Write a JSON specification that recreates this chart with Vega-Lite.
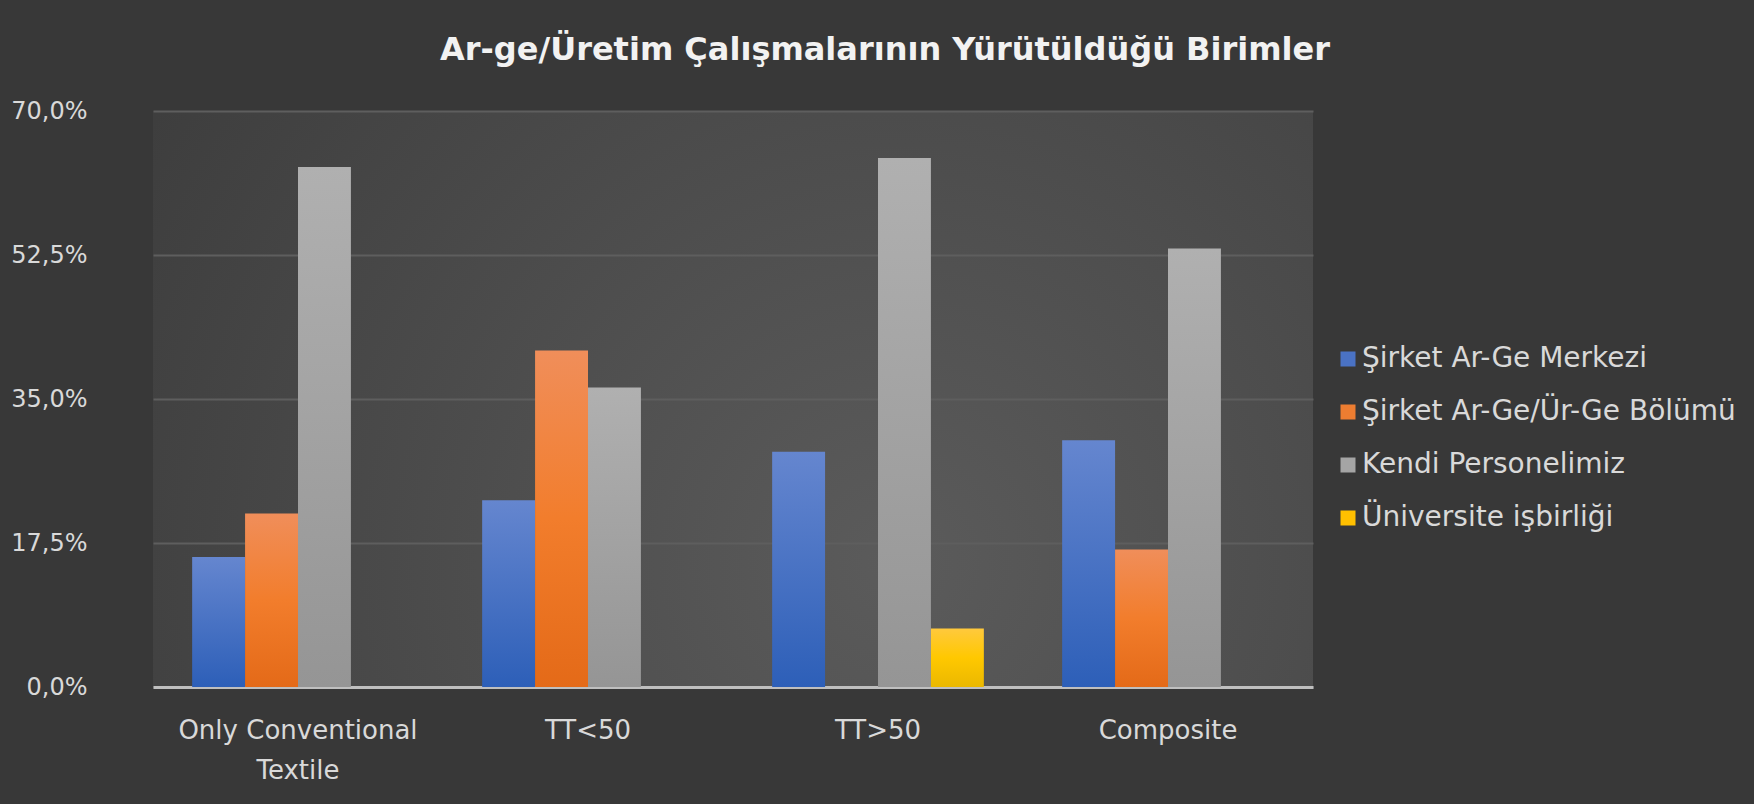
{
  "$schema": "https://vega.github.io/schema/vega-lite/v6.json",
  "autosize": {"type": "none"},
  "width": 1160,
  "height": 576,
  "padding": {"left": 153, "top": 111, "right": 441, "bottom": 117},
  "background": "#383838",
  "title": {
    "text": "Ar-ge/Üretim Çalışmalarının Yürütüldüğü Birimler",
    "font": "DejaVu Sans",
    "fontSize": 32,
    "fontWeight": "bold",
    "color": "#f2f2f2",
    "anchor": "middle",
    "dx": 152,
    "offset": 32
  },
  "data": {
    "values": [
      {"category": "Only Conventional Textile", "series": "Şirket Ar-Ge Merkezi", "value": 0.158},
      {"category": "Only Conventional Textile", "series": "Şirket Ar-Ge/Ür-Ge Bölümü", "value": 0.211},
      {"category": "Only Conventional Textile", "series": "Kendi Personelimiz", "value": 0.632},
      {"category": "TT<50", "series": "Şirket Ar-Ge Merkezi", "value": 0.227},
      {"category": "TT<50", "series": "Şirket Ar-Ge/Ür-Ge Bölümü", "value": 0.409},
      {"category": "TT<50", "series": "Kendi Personelimiz", "value": 0.364},
      {"category": "TT>50", "series": "Şirket Ar-Ge Merkezi", "value": 0.286},
      {"category": "TT>50", "series": "Kendi Personelimiz", "value": 0.643},
      {"category": "TT>50", "series": "Üniversite işbirliği", "value": 0.071},
      {"category": "Composite", "series": "Şirket Ar-Ge Merkezi", "value": 0.3},
      {"category": "Composite", "series": "Şirket Ar-Ge/Ür-Ge Bölümü", "value": 0.167},
      {"category": "Composite", "series": "Kendi Personelimiz", "value": 0.533}
    ]
  },
  "mark": {"type": "bar"},
  "encoding": {
    "x": {
      "field": "category",
      "type": "nominal",
      "sort": ["Only Conventional Textile", "TT<50", "TT>50", "Composite"],
      "scale": {"paddingInner": 0.27, "paddingOuter": 0.135},
      "axis": {
        "title": null,
        "labelAngle": 0,
        "ticks": false,
        "domain": true,
        "domainColor": "#bfbfbf",
        "domainWidth": 3,
        "labelPadding": 30,
        "labelFont": "DejaVu Sans",
        "labelFontSize": 26,
        "labelColor": "#d9d9d9",
        "labelLineHeight": 40,
        "labelLimit": 0,
        "labelExpr": "datum.label == 'Only Conventional Textile' ? ['Only Conventional', 'Textile'] : datum.label"
      }
    },
    "xOffset": {
      "field": "series",
      "type": "nominal",
      "sort": ["Şirket Ar-Ge Merkezi", "Şirket Ar-Ge/Ür-Ge Bölümü", "Kendi Personelimiz", "Üniversite işbirliği"],
      "scale": {"domain": ["Şirket Ar-Ge Merkezi", "Şirket Ar-Ge/Ür-Ge Bölümü", "Kendi Personelimiz", "Üniversite işbirliği"], "paddingInner": 0, "paddingOuter": 0}
    },
    "y": {
      "field": "value",
      "type": "quantitative",
      "scale": {"domain": [0, 0.7], "nice": false},
      "axis": {
        "title": null,
        "values": [0, 0.175, 0.35, 0.525, 0.7],
        "labelExpr": "replace(format(datum.value, '.1%'), '.', ',')",
        "domain": false,
        "ticks": false,
        "grid": true,
        "gridColor": "#5e5e5e",
        "gridWidth": 2,
        "labelPadding": 66,
        "labelFont": "DejaVu Sans",
        "labelFontSize": 24,
        "labelColor": "#d9d9d9"
      }
    },
    "fill": {
      "field": "series",
      "type": "nominal",
      "scale": {
        "domain": ["Şirket Ar-Ge Merkezi", "Şirket Ar-Ge/Ür-Ge Bölümü", "Kendi Personelimiz", "Üniversite işbirliği"],
        "range": ["#4a72c4", "#ed7d31", "#a5a5a5", "#ffc000"]
      },
      "condition": [
        {"test": "datum.series == 'Şirket Ar-Ge Merkezi'", "value": {"gradient": "linear", "x1": 0, "y1": 0, "x2": 0, "y2": 1, "stops": [{"offset": 0, "color": "#6586cf"}, {"offset": 1, "color": "#2d5fb8"}]}},
        {"test": "datum.series == 'Şirket Ar-Ge/Ür-Ge Bölümü'", "value": {"gradient": "linear", "x1": 0, "y1": 0, "x2": 0, "y2": 1, "stops": [{"offset": 0, "color": "#f08e5a"}, {"offset": 0.5, "color": "#f27d2c"}, {"offset": 1, "color": "#e46a18"}]}},
        {"test": "datum.series == 'Kendi Personelimiz'", "value": {"gradient": "linear", "x1": 0, "y1": 0, "x2": 0, "y2": 1, "stops": [{"offset": 0, "color": "#b0b0b0"}, {"offset": 1, "color": "#959595"}]}},
        {"test": "datum.series == 'Üniversite işbirliği'", "value": {"gradient": "linear", "x1": 0, "y1": 0, "x2": 0, "y2": 1, "stops": [{"offset": 0, "color": "#ffc93d"}, {"offset": 0.5, "color": "#ffc800"}, {"offset": 1, "color": "#ebb800"}]}}
      ],
      "legend": {
        "orient": "none",
        "legendX": 1181,
        "legendY": 234,
        "title": null,
        "padding": 0,
        "symbolType": "square",
        "symbolSize": 225,
        "symbolStrokeWidth": 0,
        "symbolOpacity": 1,
        "labelFont": "DejaVu Sans",
        "labelFontSize": 28,
        "labelColor": "#d9d9d9",
        "labelOffset": 0,
        "labelLimit": 0,
        "rowPadding": 25
      }
    }
  },
  "config": {
    "view": {
      "stroke": null,
      "fill": {
        "gradient": "radial",
        "x1": 0.64, "y1": 0.64, "r1": 0,
        "x2": 0.64, "y2": 0.64, "r2": 0.9,
        "stops": [{"offset": 0, "color": "#5b5b5b"}, {"offset": 1, "color": "#383838"}]
      }
    }
  }
}
